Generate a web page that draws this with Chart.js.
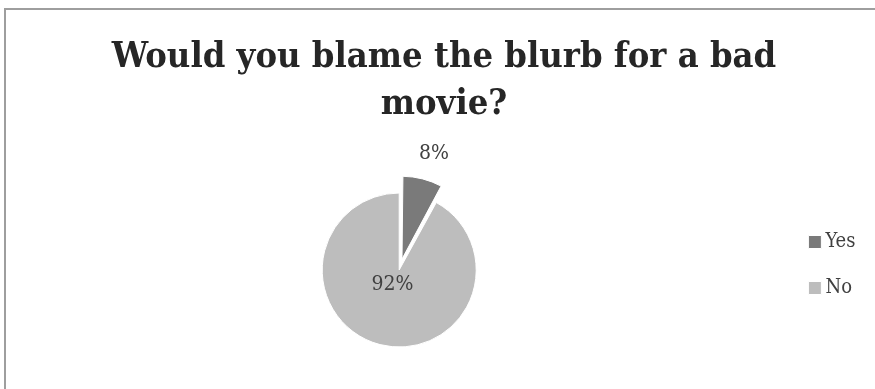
<!DOCTYPE html>
<html>
<head>
<meta charset="utf-8">
<script src="https://cdn.jsdelivr.net/npm/chart.js@4"></script>
<style>
  html, body { margin: 0; padding: 0; background: #fff; overflow: hidden; }
  #frame { position: absolute; left: 4px; top: 8px; width: 1000px; height: 600px; border: 2px solid #9e9e9e; box-sizing: border-box; }
  #wrap { position: absolute; left: 0; top: 0; width: 878px; height: 389px; }
</style>
</head>
<body>
<div id="frame"></div>
<div id="wrap"><canvas id="pieChart"></canvas></div>
<script>
const TITLE_LINES = ['Would you blame the blurb for a bad', 'movie?'];
const CATEGORIES = ['Yes', 'No'];
const VALUES = [8, 92];
const SLICE_COLORS = ['#7a7a7a', '#bdbdbd'];
const SLICE_OFFSETS = [45, 0];

const SERIF = "'DejaVu Serif Condensed', 'DejaVu Serif', serif";

// percent labels: first slice sits outside the pie, the rest inside
const pctLabels = {
    id: 'pctLabels',
    afterDatasetsDraw(chart) {
        const ctx = chart.ctx;
        const meta = chart.getDatasetMeta(0);
        const total = VALUES.reduce((a, b) => a + b, 0);
        ctx.save();
        ctx.font = `21px ${SERIF}`;
        ctx.fillStyle = '#404040';
        ctx.textAlign = 'center';
        ctx.textBaseline = 'middle';
        meta.data.forEach((arc, i) => {
            const {x, y, startAngle, endAngle, outerRadius} = arc.getProps(['x', 'y', 'startAngle', 'endAngle', 'outerRadius'], true);
            const mid = (startAngle + endAngle) / 2;
            const r = i === 0 ? outerRadius + 43 : outerRadius * 0.2;
            const pct = Math.round(VALUES[i] / total * 100) + '%';
            ctx.fillText(pct, x + Math.cos(mid) * r + (i === 0 ? 5 : -3), y + Math.sin(mid) * r);
        });
        ctx.restore();
    }
};

new Chart(document.getElementById('pieChart'), {
    type: 'pie',
    data: {
        labels: CATEGORIES,
        datasets: [{
            data: VALUES,
            backgroundColor: SLICE_COLORS,
            borderColor: '#ffffff',
            borderWidth: 1,
            offset: SLICE_OFFSETS,
            radius: 77
        }]
    },
    options: {
        responsive: true,
        maintainAspectRatio: false,
        animation: false,
        layout: { padding: { left: 10, right: 0, top: 0, bottom: 0 } },
        plugins: {
            title: {
                display: true,
                text: TITLE_LINES,
                color: '#262626',
                font: { family: SERIF, size: 36, weight: 'bold', lineHeight: 1.306 },
                padding: { top: 34, bottom: 23 }
            },
            legend: {
                position: 'right',
                align: 'start',
                // empty title pushes the entries down beside the pie
                title: {
                    display: true,
                    text: ' ',
                    font: { size: 12, lineHeight: 1 },
                    padding: { top: 194, bottom: 0 }
                },
                labels: {
                    usePointStyle: true,
                    pointStyle: 'rect',
                    boxWidth: 1,
                    boxHeight: 13,
                    padding: 26,
                    color: '#404040',
                    font: { family: SERIF, size: 20 },
                    // trailing space keeps some room after the short labels
                    generateLabels(chart) {
                        const items = Chart.overrides.pie.plugins.legend.labels.generateLabels(chart);
                        items.forEach(it => { it.text = it.text + '\u2002\u2009'; });
                        return items;
                    }
                }
            },
            tooltip: { enabled: false }
        }
    },
    plugins: [pctLabels]
});
</script>
</body>
</html>
